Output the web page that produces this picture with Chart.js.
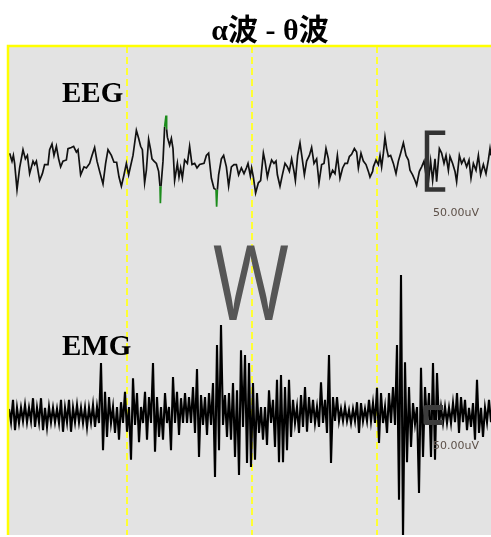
<!DOCTYPE html>
<html lang="ja">
<head>
<meta charset="UTF-8" />
<title>α波 - θ波</title>
<script src="https://cdn.jsdelivr.net/npm/chart.js@4.4.0/dist/chart.umd.min.js"></script>
<style>
  body { margin: 0; background: #ffffff; }
  #wrap { width: 491px; height: 537px; }
</style>
</head>
<body>
<div id="wrap"><canvas id="wave-graph" width="491" height="537"></canvas></div>

<script>
  const TITLE = 'α波 - θ波';
  const CHANNELS = ['EEG', 'EMG'];
  const MARKER = 'W';
  const SCALE_LABEL = '50.00uV';
  const GRID_MS = [1000, 2000, 3000]; // dashed second markers

  const eegTimeMs = [
    61, 80, 91, 101, 120, 141, 168, 187, 203, 221, 248, 261, 275, 301, 323, 341, 368, 381, 400, 416,
    435, 453, 469, 488, 515, 528, 555, 573, 595, 608, 629, 656, 675, 701, 720, 741, 760, 781, 808, 829,
    848, 875, 896, 917, 936, 955, 976, 995, 1013,
    1048, 1075, 1093, 1109, 1123, 1141, 1155, 1173, 1189, 1200, 1216, 1235, 1253, 1264, 1267, 1272, 1288, 1301, 1312, 1317,
    1323, 1341, 1355, 1368, 1381, 1403, 1416, 1429, 1443, 1461, 1483, 1501, 1520, 1541, 1560, 1581, 1616, 1635, 1653, 1675,
    1696, 1712, 1717, 1723, 1733, 1755, 1773, 1795, 1813, 1835, 1856, 1875, 1893, 1915, 1936, 1955, 1968, 1987,
    1997, 2011, 2029, 2051, 2069, 2091, 2104, 2123, 2139, 2157, 2176, 2192, 2203, 2224, 2243, 2264, 2283, 2299, 2317, 2336,
    2347, 2365, 2384, 2403, 2419, 2437, 2459, 2477, 2496, 2517, 2536, 2557, 2576, 2592, 2611, 2624, 2645, 2664, 2683, 2704,
    2725, 2744, 2763, 2779, 2797, 2819, 2837, 2851, 2872, 2891, 2912, 2931, 2944, 2965,
    2971, 2992, 3011, 3024, 3037, 3051, 3064, 3077, 3091, 3109, 3131, 3152, 3171, 3189, 3211, 3232, 3251, 3264, 3285, 3304,
    3317, 3339, 3357, 3376, 3392, 3411, 3429, 3445, 3464, 3477, 3499, 3517, 3536, 3552, 3571, 3584, 3605, 3624, 3637, 3659,
    3677, 3696, 3717, 3736, 3752, 3771, 3792, 3811, 3829, 3851, 3872, 3891, 3904, 3912
  ];
  const eegUv = [
    6, -1, 4, -3, -26, -7, 9, 1, 4, -12, -1, -4, -1, -18, -12, -4, -4, 9, 14, 4,
    12, 1, -6, -1, 0, 10, 11, 12, 7, 9, -13, -6, -7, -3, 4, 11, -1, -10, -21, -3,
    9, 4, -2, -2, -15, -23, -13, -3, -13,
    4, 26, 19, 12, 9, -20, -9, 18, 9, 1, -1, -3, -10, -23, -38, -23, -1, 29, 39, 27,
    20, 13, 19, 10, -18, -3, -15, -7, -16, 0, -3, 12, -4, -3, -7, -4, -3, 4, 6, -16,
    -25, -26, -41, -26, -13, 1, 4, -6, -23, -6, -4, -4, -13, -7, -12, -7, -3, -14,
    -7, -15, -29, -20, -18, 6, -1, -15, -7, 0, -3, -1, -13, -23, -13, -3, -6, -10, 1, -10,
    -18, 4, 15, 0, -13, -1, 4, 11, -3, 1, -20, -4, -3, 10, 1, -15, -9, -12, 4, -16,
    -7, -3, -3, 3, 5, 10, 7, -7, 6, -1, -4, -10, -15, -10,
    -6, 0, -4, 4, -6, 6, 20, 10, 3, 4, -3, -12, -1, 6, 15, 4, 0, -9, -13, -18,
    -22, -10, -6, -1, -13, -19, -1, -18, 1, -19, 10, 6, -3, 4, -9, 3, -3, -10, -19, 4,
    -3, 1, -6, 0, -16, -3, -9, 4, -13, -4, -12, 0, 10, 4
  ];

  // EMG trace, one reading every 16 ms from 56 ms (uV)
  const EMG_START_MS = 56;
  const EMG_STEP_MS = 16;
  const emgUv = [
    15, -18, 38, -38, 18, -20, 18, -15, 25, -18, 18, -15, 42, -30, 18, -18, 42, -38, 18, -30,
    20, -18, 18, -18, 15, -20, 38, -42, 18, -18, 38, -42, 18, -18, 25, -18, 18, -20, 18, -30,
    18, -18, 25, -30, 20, -20,
    130, -88, 58, -55, 45, -20, 20, -45, 20, -62, 32, -20, 58, -42, 20, -112, 92, -25, 55, -68,
    20, -20, 58, -62, 45, -20, 130, -92, 45, -55, 20, -62, 55, -20, 20, -88, 95, -20, 58, -50,
    42, -20, 55, -20, 45, -20, 70, -45, 115, -105,
    50, -25, 45, -50, 55, -25, 80, -155, 175, -88, 225, -25, 50, -55, 55, -62, 80, -105, 62, -150,
    162, -30, 150, -120, 130, -130, 80, -112, 55, -45, 20, -62, 20, -75, 62, -20, 38, -80, 88, -118,
    100, -118, 70, -88, 88, -55, 38, -20, 20, -45,
    50, -30, 70, -42, 45, -20, 38, -20, 20, -30, 82, -20, 38, -45, 150, -120, 45, -15, 45, -15,
    15, -15, 20, -15, 12, -20, 15, -15, 32, -45, 30, -15, 15, -15, 38, -15, 30, -20, 68, -70,
    55, -20, 20, -45, 55, -20, 70, -25, 175, -212,
    350, -310, 132, -118, 70, -80, 30, -22, 20, -195, 118, -105, 70, -25, 55, -105, 130, -112, 105, -25,
    20, -20, 20, -20, 18, -20, 30, -18, 55, -45, 45, -18, 38, -38, 18, -30, 30, -62, 88, -45,
    18, -55, 18, -18, 38, -18
  ];

  const SCALE_UV = 50;
  const ARTIFACT_UV = 30; // excursions past this are drawn green

  const eegPoints = eegTimeMs.map((t, i) => ({ x: t, y: eegUv[i] }));
  const emgPoints = emgUv.map((v, i) => ({ x: EMG_START_MS + i * EMG_STEP_MS, y: v }));

  // calibration brackets beside the traces
  const eegBar = [
    { x: 3528, y: SCALE_UV - 26 }, { x: 3400, y: SCALE_UV - 26 },
    { x: 3400, y: -26 }, { x: 3528, y: -26 }
  ];
  const emgBar = [
    { x: 3528, y: 19 }, { x: 3392, y: 19 },
    { x: 3392, y: -19 }, { x: 3528, y: -19 }
  ];

  const paperPlugin = {
    id: 'paper',
    beforeDraw(chart) {
      const { ctx, chartArea: a } = chart;
      ctx.save();
      ctx.fillStyle = '#e3e3e3';
      ctx.fillRect(a.left, a.top, a.right - a.left, a.bottom - a.top);
      ctx.restore();
    },
    afterDraw(chart) {
      const { ctx, chartArea: a, scales } = chart;
      ctx.save();
      // yellow frame, top and left
      ctx.strokeStyle = '#ffff00';
      ctx.lineWidth = 2.5;
      ctx.beginPath();
      ctx.moveTo(a.left, a.bottom);
      ctx.lineTo(a.left, a.top);
      ctx.lineTo(a.right, a.top);
      ctx.stroke();

      ctx.fillStyle = '#000';
      ctx.textAlign = 'center';
      ctx.font = 'bold 30px "Liberation Serif", "Noto Sans CJK JP"';
      ctx.fillText(TITLE, 270, 40);

      ctx.textAlign = 'left';
      ctx.font = 'bold 29px "Liberation Serif"';
      ctx.fillText(CHANNELS[0], 62, 102);
      ctx.fillText(CHANNELS[1], 62, 355);

      ctx.save();
      ctx.fillStyle = '#565656';
      ctx.textAlign = 'center';
      ctx.font = '400 104px "Open Sans"';
      ctx.translate(251, 320);
      ctx.scale(0.8, 1);
      ctx.fillText(MARKER, 0, 0);
      ctx.restore();

      ctx.fillStyle = '#5d5048';
      ctx.font = '11px "DejaVu Sans"';
      const lx = scales.x.getPixelForValue(3448);
      ctx.fillText(SCALE_LABEL, lx, 216);
      ctx.fillText(SCALE_LABEL, lx, 449);
      ctx.restore();
    }
  };

  const waveChart = document.getElementById('wave-graph').getContext('2d');
  var waveGraph = new Chart(waveChart, {
    type: 'line',
    data: {
      datasets: [
        {
          data: eegBar,
          yAxisID: 'yEeg',
          borderColor: '#333',
          borderWidth: 4.5,
          borderCapStyle: 'square'
        },
        {
          data: emgBar,
          yAxisID: 'yEmg',
          borderColor: '#3c3c3c',
          borderWidth: 5,
          borderJoinStyle: 'round'
        },
        {
          label: 'EEG',
          data: eegPoints,
          yAxisID: 'yEeg',
          borderColor: '#111',
          borderWidth: 1.7,
          segment: {
            borderColor: ctx =>
              (Math.abs(ctx.p0.parsed.y) > ARTIFACT_UV || Math.abs(ctx.p1.parsed.y) > ARTIFACT_UV)
                ? '#1c8c1c' : undefined
          }
        },
        {
          label: 'EMG',
          data: emgPoints,
          yAxisID: 'yEmg',
          borderColor: '#000',
          borderWidth: 2.1
        }
      ]
    },
    options: {
      responsive: false,
      animation: false,
      devicePixelRatio: 1,
      layout: { padding: { left: 8, top: 46, right: 0, bottom: 2 } },
      elements: { point: { radius: 0 }, line: { tension: 0 } },
      plugins: {
        legend: { display: false },
        tooltip: { enabled: false },
        title: { display: false }
      },
      scales: {
        x: {
          type: 'linear',
          min: 48,
          max: 3912,
          afterBuildTicks: scale => { scale.ticks = GRID_MS.map(v => ({ value: v })); },
          ticks: { display: false },
          grid: { color: '#ffff33', lineWidth: 2, drawTicks: false },
          border: { display: false, dash: [7, 4] }
        },
        yEeg: { type: 'linear', min: -329, max: 100, display: false },
        yEmg: { type: 'linear', min: -300, max: 922.5, display: false }
      }
    },
    plugins: [paperPlugin]
  });
</script>
</body>
</html>
